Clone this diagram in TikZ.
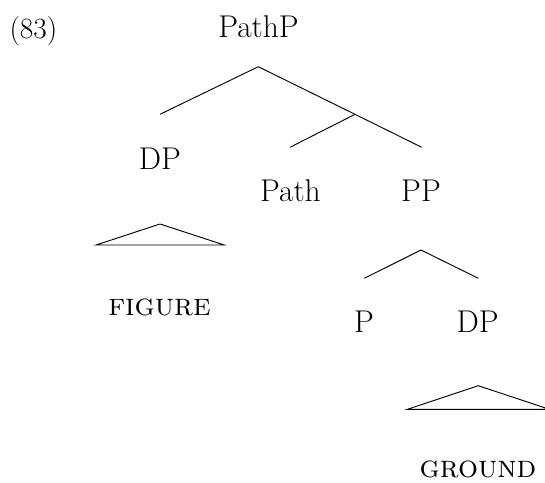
\documentclass[tikz,border=0pt]{standalone}
\begin{document}
\begin{tikzpicture}[x=0.75pt,y=-0.75pt,
  lbl/.style={inner sep=0pt,anchor=base,font=\fontsize{23.6}{28}\selectfont},
  num/.style={inner sep=0pt,anchor=base west,font=\fontsize{22}{26}\selectfont},
  br/.style={line width=0.7pt,line join=miter}]
\useasboundingbox (0,0) rectangle (545,482);
% labels
\node[num] (ex) at (9.3,38.5) {(83)};
\node[lbl] (pathp) at (258.5,37.7) {PathP};
\node[lbl] (dp1) at (160,169.3) {DP};
\node[lbl] (path) at (290.5,201.7) {Path};
\node[lbl] (pp) at (421,201.7) {PP};
\node[lbl] (fig) at (159.5,315) {\textsc{figure}};
\node[lbl] (p) at (364,332.7) {P};
\node[lbl] (dp2) at (477.5,332.7) {DP};
\node[lbl] (gr) at (478,477.5) {\textsc{ground}};
% branch points
\coordinate (pathp-b) at (258.3,66.7);
\coordinate (dp1-t) at (160,114.3);
\coordinate (bar) at (355,114.3);
\coordinate (path-t) at (290,147.3);
\coordinate (pp-t) at (421.7,147.3);
\coordinate (pp-b) at (421,250);
\coordinate (p-t) at (364.3,278.3);
\coordinate (dp2-t) at (478.3,278.3);
\coordinate (t1-a) at (160,224);
\coordinate (t1-l) at (96,245);
\coordinate (t1-r) at (224.3,245);
\coordinate (t2-a) at (478.3,385.7);
\coordinate (t2-l) at (407.3,409.3);
\coordinate (t2-r) at (549.3,409.3);
% branches
\draw[br] (pathp-b) -- (dp1-t);
\draw[br] (pathp-b) -- (bar) -- (pp-t);
\draw[br] (bar) -- (path-t);
\draw[br] (pp-b) -- (p-t);
\draw[br] (pp-b) -- (dp2-t);
\draw[br] (t1-a) -- (t1-l) -- (t1-r) -- cycle;
\draw[br] (t2-a) -- (t2-l) -- (t2-r) -- cycle;
\end{tikzpicture}
\end{document}
